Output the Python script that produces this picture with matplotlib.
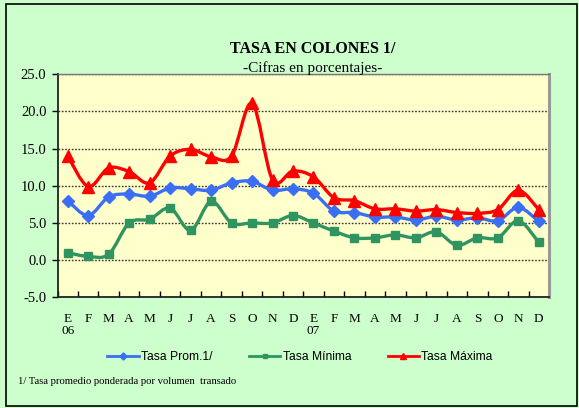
import numpy as np
import matplotlib
matplotlib.use("Agg")
from matplotlib import pyplot as plt
from matplotlib.path import Path
from matplotlib.patches import PathPatch, Rectangle
from matplotlib.lines import Line2D

# monthly rates, Jan 2006 - Dec 2007
months = ["E\n06", "F", "M", "A", "M", "J", "J", "A", "S", "O", "N", "D",
          "E\n07", "F", "M", "A", "M", "J", "J", "A", "S", "O", "N", "D"]
tasa_prom = [8.0, 6.0, 8.5, 8.9, 8.6, 9.7, 9.6, 9.4, 10.4, 10.6, 9.4, 9.6,
             9.0, 6.6, 6.4, 5.8, 5.8, 5.4, 5.9, 5.4, 5.7, 5.3, 7.1, 5.2]
tasa_min = [1.0, 0.5, 0.8, 5.0, 5.5, 7.0, 4.0, 7.9, 5.0, 5.0, 5.0, 6.0,
            5.0, 3.9, 3.0, 3.0, 3.4, 3.0, 3.8, 2.0, 3.0, 3.0, 5.3, 2.4]
tasa_max = [14.0, 9.9, 12.4, 11.9, 10.4, 14.0, 14.9, 13.9, 14.0, 21.1, 10.8, 12.0,
            11.2, 8.4, 8.0, 6.9, 6.9, 6.6, 6.8, 6.4, 6.3, 6.8, 9.4, 6.8]

series = [
    ("Tasa Prom.1/", tasa_prom, "#3a6ff5", "D", 6),
    ("Tasa Mínima", tasa_min, "#2f9460", "s", 6),
    ("Tasa Máxima", tasa_max, "#ff0000", "^", 8),
]


def smooth_path(x, y):
    # Catmull-Rom style cubic Bezier through every point (Excel "smoothed line")
    pts = np.column_stack([x, y]).astype(float)
    verts = [pts[0]]
    codes = [Path.MOVETO]
    n = len(pts)
    for i in range(n - 1):
        p0 = pts[max(i - 1, 0)]
        p1 = pts[i]
        p2 = pts[i + 1]
        p3 = pts[min(i + 2, n - 1)]
        c1 = p1 + (p2 - p0) / 6.0
        c2 = p2 - (p3 - p1) / 6.0
        verts += [c1, c2, p2]
        codes += [Path.CURVE4] * 3
    return Path(verts, codes)


fig = plt.figure(figsize=(5.79, 4.08), dpi=100)
fig.patch.set_facecolor("#ccffcc")
fig.patches.append(Rectangle((6 / 579, 2 / 408), 571 / 579, 402 / 408,
                             transform=fig.transFigure, fill=False,
                             edgecolor="black", linewidth=1.2))

ax = fig.add_axes([57.5 / 579, (408 - 297.3) / 408, (549 - 57.5) / 579, (297.3 - 74.3) / 408])
ax.set_facecolor("#ffffcc")

x = np.arange(len(months))
for name, vals, col, mk, ms in series:
    ax.add_patch(PathPatch(smooth_path(x, vals), facecolor="none", edgecolor=col,
                           linewidth=2.4, zorder=3, capstyle="round", joinstyle="round"))
    ax.plot(x, vals, linestyle="none", marker=mk, color=col, markersize=ms, zorder=4)

ax.set_xlim(-0.5, len(months) - 0.5)
ax.set_ylim(-5, 25)
ax.set_yticks(np.arange(-5, 26, 5))
ax.set_yticklabels(["%.1f" % v for v in np.arange(-5, 26, 5)],
                   fontfamily="Liberation Serif", fontsize=10.5)
ax.yaxis.grid(True, linestyle=(0, (1.2, 1.2)), color="#333333", linewidth=1.0)
ax.set_axisbelow(True)
ax.tick_params(axis="y", direction="out", length=4, width=1, pad=4)

# category boundaries get tick marks, centres get the labels
ax.set_xticks(np.arange(-0.5, len(months), 1.0))
ax.set_xticklabels([])
ax.tick_params(axis="x", which="major", direction="in", length=4, width=1)
ax.set_xticks(x, minor=True)
ax.set_xticklabels(months, minor=True, fontfamily="Liberation Serif", fontsize=9.5,
                   linespacing=1.05, va="top")
ax.tick_params(axis="x", which="minor", length=0, pad=11)
for lbl in ax.get_xticklabels(minor=True):
    lbl.set_multialignment("center")

for side in ["left", "bottom"]:
    ax.spines[side].set_color("#222222")
    ax.spines[side].set_linewidth(1.3)
ax.spines["top"].set_color("#777777")
ax.spines["top"].set_linewidth(1.0)
ax.spines["right"].set_color("#999999")
ax.spines["right"].set_linewidth(2.2)

fig.text(313 / 579, 1 - 49 / 408, "TASA EN COLONES 1/", ha="center", va="center",
         fontfamily="Liberation Serif", fontweight="bold", fontsize=11.5)
fig.text(313 / 579, 1 - 68 / 408, "-Cifras en porcentajes-", ha="center", va="center",
         fontfamily="Liberation Serif", fontsize=11)

handles = [Line2D([0], [0], color=col, linewidth=2, marker=mk, markersize=ms * 0.6)
           for name, vals, col, mk, ms in series]
fig.legend(handles, [s[0] for s in series], loc="center", ncol=3,
           bbox_to_anchor=(300 / 579, 1 - 357 / 408), frameon=False,
           prop={"family": "Liberation Sans", "size": 8.7},
           handlelength=2.6, handletextpad=0.2, columnspacing=3.0)

fig.text(18 / 579, 1 - 381 / 408, "1/ Tasa promedio ponderada por volumen  transado",
         ha="left", va="center", fontfamily="Liberation Serif", fontsize=7.7)

fig.savefig("out.png", dpi=100, facecolor=fig.get_facecolor())
